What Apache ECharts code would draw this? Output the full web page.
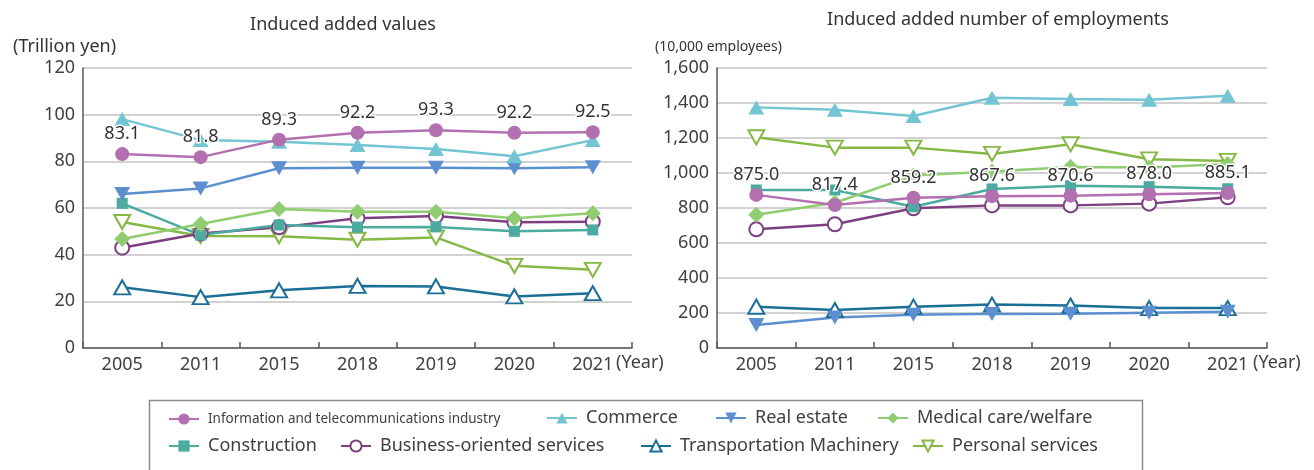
<!DOCTYPE html>
<html>
<head>
<meta charset="utf-8">
<script src="https://cdn.jsdelivr.net/npm/echarts@6/dist/echarts.min.js"></script>
<style>
	html, body { margin: 0; padding: 0; background: #fff; }
	#chart { width: 1314px; height: 470px; }
</style>
</head>
<body>
<div id="chart"></div>
<script>
// 年份
var years = ['2005', '2011', '2015', '2018', '2019', '2020', '2021'];

// 诱发附加值 (Trillion yen)
var valInfo = [83.1, 81.8, 89.3, 92.2, 93.3, 92.2, 92.5];
var valCommerce = [98.1, 89.1, 88.4, 87.0, 85.3, 82.2, 89.1];
var valRealEstate = [66.0, 68.4, 77.0, 77.2, 77.2, 77.0, 77.5];
var valMedical = [46.7, 53.1, 59.6, 58.4, 58.4, 55.6, 57.7];
var valConstruction = [62.0, 48.4, 52.7, 51.8, 51.9, 50.0, 50.6];
var valBusiness = [43.0, 49.1, 51.7, 55.6, 56.6, 53.9, 54.1];
var valTransport = [26.0, 21.8, 24.7, 26.6, 26.4, 22.1, 23.5];
var valPersonal = [54.0, 48.0, 47.9, 46.4, 47.4, 35.2, 33.5];

// 诱发就业人数 (10,000 employees)
var empInfo = [875.0, 817.4, 859.2, 867.6, 870.6, 878.0, 885.1];
var empCommerce = [1375, 1362, 1326, 1430, 1423, 1419, 1442];
var empRealEstate = [132, 174, 190, 195, 196, 202, 207];
var empMedical = [762, 830, 985, 1008, 1034, 1032, 1051];
var empConstruction = [903, 903, 807, 909, 927, 922, 910];
var empBusiness = [678, 707, 798, 815, 815, 825, 861];
var empTransport = [236, 217, 236, 248, 243, 228, 228];
var empPersonal = [1204, 1145, 1145, 1109, 1164, 1078, 1069];

var names = [
	'Information and telecommunications industry',
	'Commerce',
	'Real estate',
	'Medical care/welfare',
	'Construction',
	'Business-oriented services',
	'Transportation Machinery',
	'Personal services'
];

var fontName = '"Noto Sans", "DejaVu Sans", sans-serif';
var textColor = '#404040';

// 每个系列的样式
var styles = [
	{ color: '#b370b0', symbol: 'circle', size: 14 },
	{ color: '#74c5d3', symbol: 'triangle', size: [16, 14] },
	{ color: '#5b8fcf', symbol: 'triangle', size: [16, 14], rotate: 180 },
	{ color: '#90cc70', symbol: 'diamond', size: 16 },
	{ color: '#4bab9f', symbol: 'rect', size: 11 },
	{ color: '#7d3f80', symbol: 'emptyCircle', size: 14 },
	{ color: '#1b6f97', symbol: 'emptyTriangle', size: [16, 14] },
	{ color: '#86b845', symbol: 'emptyTriangle', size: [16, 14], rotate: 180 }
];

var leftData = [valInfo, valCommerce, valRealEstate, valMedical, valConstruction, valBusiness, valTransport, valPersonal];
var rightData = [empInfo, empCommerce, empRealEstate, empMedical, empConstruction, empBusiness, empTransport, empPersonal];

function makeSeries(idx, data, gridIdx) {
	var st = styles[idx];
	var s = {
		name: names[idx],
		type: 'line',
		xAxisIndex: gridIdx,
		yAxisIndex: gridIdx,
		data: data,
		symbol: st.symbol,
		symbolSize: st.size,
		symbolRotate: st.rotate || 0,
		showAllSymbol: true,
		animation: false,
		z: idx == 0 ? 5 : 2,
		lineStyle: { color: st.color, width: 2.5 },
		itemStyle: { color: st.color, borderColor: st.color, borderWidth: st.symbol.indexOf('empty') == 0 ? 2.5 : 0 }
	};
	if (idx == 0) {
		s.label = {
			show: true,
			position: 'top',
			distance: 4,
			fontFamily: fontName,
			fontSize: 18,
			color: '#333',
			textBorderColor: '#fff',
			textBorderWidth: 3,
			formatter: function(p) { return p.value.toFixed(1); }
		};
	}
	return s;
}

var series = [];
for (var i = 7; i >= 0; i--) {
	series.push(makeSeries(i, leftData[i], 0));
	series.push(makeSeries(i, rightData[i], 1));
}

// 图例位置 (两行)
var legendPos = [
	[168, 412], [546, 409], [715, 409], [877, 409],
	[168, 437], [340, 437], [640, 437], [912, 437]
];
var legends = [];
for (var k = 0; k < names.length; k++) {
	legends.push({
		data: [names[k]],
		left: legendPos[k][0],
		top: legendPos[k][1],
		padding: 0,
		itemWidth: 30,
		itemHeight: 14,
		itemGap: 0,
		textStyle: {
			fontFamily: fontName,
			fontSize: k == 0 ? 13.5 : 18,
			color: textColor,
			padding: [0, 0, 0, 4]
		}
	});
}

function xAxisCfg(gi) {
	return {
		type: 'category',
		gridIndex: gi,
		data: years,
		boundaryGap: true,
		axisLine: { lineStyle: { color: '#595959', width: 1.5 } },
		axisTick: { show: true, inside: true, length: 6, interval: 0, lineStyle: { color: '#595959', width: 1.5 } },
		axisLabel: { fontFamily: fontName, fontSize: 18, color: textColor, margin: 8 }
	};
}

function yAxisCfg(gi, max, interval) {
	return {
		type: 'value',
		gridIndex: gi,
		min: 0,
		max: max,
		interval: interval,
		axisLine: { show: true, lineStyle: { color: '#595959', width: 1.5 } },
		axisTick: { show: false },
		splitLine: { lineStyle: { color: '#c3c3c3', width: 1.5 } },
		axisLabel: {
			fontFamily: fontName, fontSize: 18, color: textColor, margin: 8,
			formatter: function(v) { return v.toLocaleString('en-US'); }
		}
	};
}

var myChart = echarts.init(document.getElementById('chart'));
var option = {
	backgroundColor: '#fff',
	animation: false,
	title: [
		{ text: 'Induced added values', left: 338, top: 11, textAlign: 'center',
		  textStyle: { fontFamily: fontName, fontSize: 18, fontWeight: 'normal', color: '#333' } },
		{ text: 'Induced added number of employments', left: 993, top: 6, textAlign: 'center',
		  textStyle: { fontFamily: fontName, fontSize: 18, fontWeight: 'normal', color: '#333' } },
		{ text: '(Trillion yen)', left: 8, top: 33,
		  textStyle: { fontFamily: fontName, fontSize: 18, fontWeight: 'normal', color: '#333' } },
		{ text: '(10,000 employees)', left: 650, top: 35,
		  textStyle: { fontFamily: fontName, fontSize: 14, fontWeight: 'normal', color: '#333' } }
	],
	legend: legends,
	grid: [
		{ left: 83, right: 682, top: 68, bottom: 122 },
		{ left: 717, right: 47, top: 68, bottom: 122 }
	],
	xAxis: [xAxisCfg(0), xAxisCfg(1)],
	yAxis: [yAxisCfg(0, 120, 20), yAxisCfg(1, 1600, 200)],
	graphic: [
		{ type: 'text', left: 616, top: 354, style: { text: '(Year)', font: '18px ' + fontName, fill: textColor } },
		{ type: 'text', left: 1253, top: 354, style: { text: '(Year)', font: '18px ' + fontName, fill: textColor } },
		// 图例外框
		{ type: 'rect', left: 147, top: 398, z: -1,
		  shape: { width: 993, height: 90 },
		  style: { fill: 'none', stroke: '#8c8c8c', lineWidth: 1.5 } }
	],
	series: series
};
myChart.setOption(option);
</script>
</body>
</html>
